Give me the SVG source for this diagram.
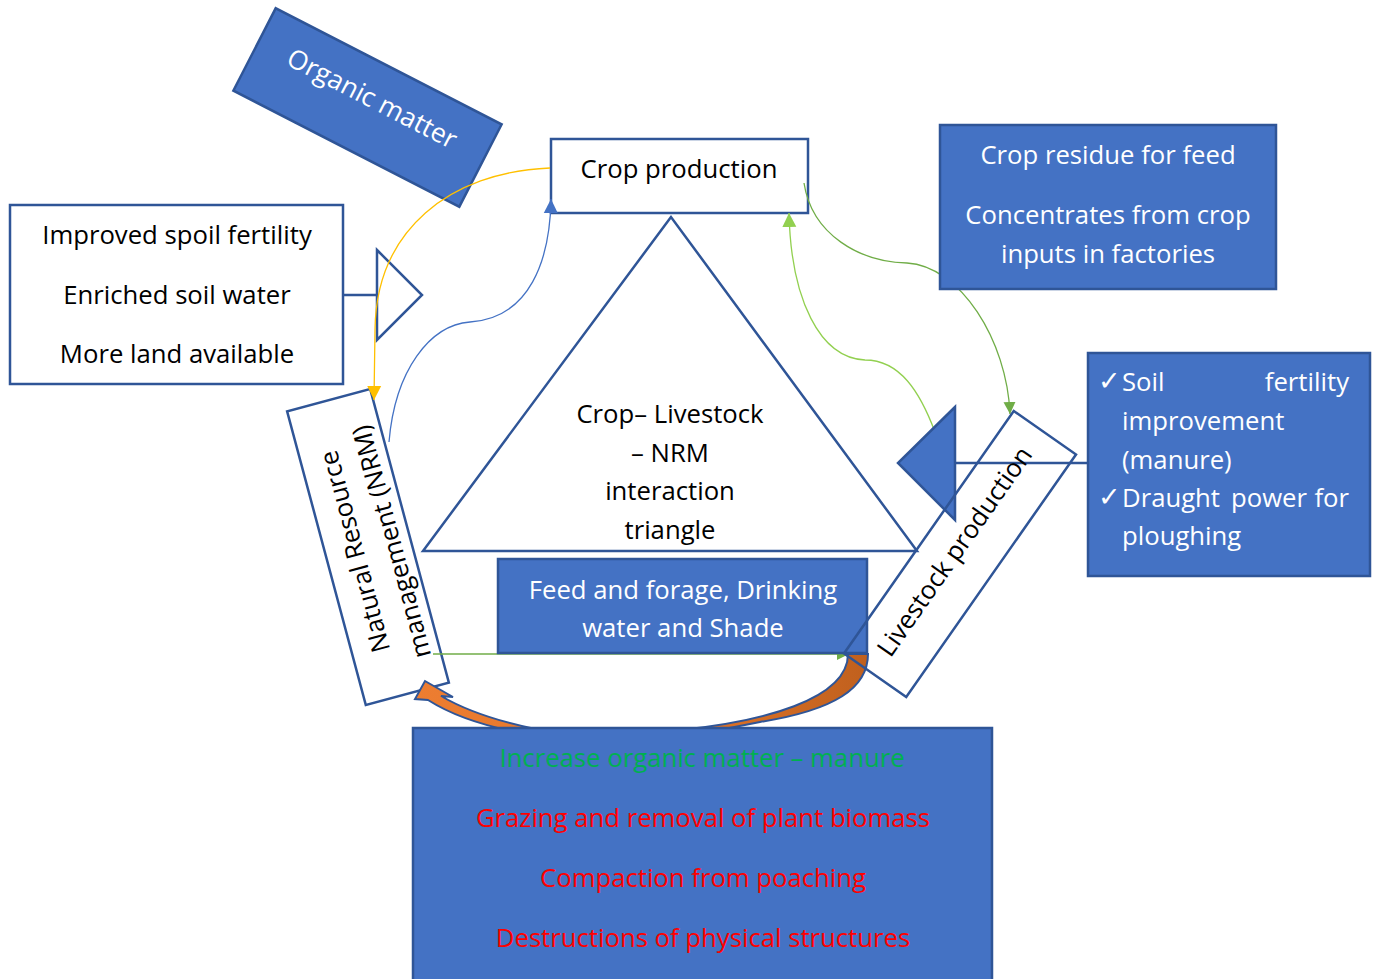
<svg xmlns="http://www.w3.org/2000/svg" width="1376" height="979" viewBox="0 0 1376 979">
  <style>
    .t { font-family: "Open Sans", "Liberation Sans", sans-serif; font-size: 25.7px; }
    .blk { fill: #000000; }
    .wht { fill: #FFFFFF; }
    .c { text-anchor: middle; }
    .boxw { fill: #FFFFFF; stroke: #2F5597; stroke-width: 2.5; }
    .boxb { fill: #4472C4; stroke: #2F5597; stroke-width: 2.5; }
    .outline { fill: none; stroke: #2F5597; stroke-width: 2.5; }
    .conn { fill: none; stroke-width: 1.3; }
    .chk { font-family: "DejaVu Sans", sans-serif; font-size: 27px; fill: #FFFFFF; }
  </style>
  <defs>
    <marker id="ah-yellow" viewBox="0 0 10 10" refX="10" refY="5" markerWidth="14" markerHeight="15" markerUnits="userSpaceOnUse" orient="auto">
      <path d="M0,0 L10,5 L0,10 Z" fill="#FFC000"/>
    </marker>
    <marker id="ah-blue" viewBox="0 0 10 10" refX="10" refY="5" markerWidth="14" markerHeight="15" markerUnits="userSpaceOnUse" orient="auto">
      <path d="M0,0 L10,5 L0,10 Z" fill="#4472C4"/>
    </marker>
    <marker id="ah-lgreen" viewBox="0 0 10 10" refX="10" refY="5" markerWidth="14" markerHeight="15" markerUnits="userSpaceOnUse" orient="auto">
      <path d="M0,0 L10,5 L0,10 Z" fill="#92D050"/>
    </marker>
    <marker id="ah-dgreen" viewBox="0 0 10 10" refX="10" refY="5" markerWidth="12" markerHeight="15" markerUnits="userSpaceOnUse" orient="auto">
      <path d="M0,0 L10,5 L0,10 Z" fill="#70AD47"/>
    </marker>
    <linearGradient id="orangeGrad" x1="415" y1="0" x2="868" y2="0" gradientUnits="userSpaceOnUse">
      <stop offset="0" stop-color="#ED7D31"/>
      <stop offset="0.6" stop-color="#E07428"/>
      <stop offset="1" stop-color="#C0601E"/>
    </linearGradient>
  </defs>

  <rect width="1376" height="979" fill="#FFFFFF"/>

  <!-- Organic matter -->
  <g id="organic-matter" transform="translate(367.5,107.5) rotate(27.2)">
    <rect class="boxb" x="-127" y="-46.3" width="254" height="92.6"/>
    <text class="t wht c" x="0" y="-1" style="font-size:26.5px">Organic matter</text>
  </g>

  <!-- Improved soil fertility box with open triangle -->
  <g id="soil-benefits">
    <rect class="boxw" x="10" y="205" width="333" height="179"/>
    <text class="t blk c" x="177" y="244">Improved spoil fertility</text>
    <text class="t blk c" x="177" y="304">Enriched soil water</text>
    <text class="t blk c" x="177" y="363">More land available</text>
    <line x1="343" y1="295" x2="377" y2="295" stroke="#2F5597" stroke-width="2.5"/>
    <polygon class="boxw" points="377,250 422,295 377,340"/>
  </g>

  <!-- Crop production -->
  <g id="crop-production">
    <rect class="boxw" x="551" y="139" width="257" height="74"/>
    <text class="t blk c" x="679" y="178">Crop production</text>
  </g>

  <!-- Central triangle -->
  <g id="interaction-triangle">
    <polygon class="outline" points="671,217 423,551 917,551"/>
    <text class="t blk c" x="670" y="423">Crop– Livestock</text>
    <text class="t blk c" x="670" y="462">– NRM</text>
    <text class="t blk c" x="670" y="500">interaction</text>
    <text class="t blk c" x="670" y="539">triangle</text>
  </g>

  <!-- NRM -->
  <g id="nrm" transform="translate(368,547) rotate(-105)">
    <rect class="boxw" x="-152" y="-43" width="304" height="86"/>
    <text class="t blk c" x="-1" y="-5">Natural Resource</text>
    <text class="t blk c" x="-1" y="33">management (NRM)</text>
  </g>

  <!-- Connectors -->
  <g id="connectors">
    <path class="conn" stroke="#FFC000" d="M550,168 C450,172 376,230 375,330 L374,400" marker-end="url(#ah-yellow)"/>
    <path class="conn" stroke="#4472C4" d="M389,442 C395,370 430,325 470,322 C530,318 550,260 551,199" marker-end="url(#ah-blue)"/>
    <path class="conn" stroke="#70AD47" d="M804,183 C812,235 860,262 907,263 C960,266 1007,340 1010,414" marker-end="url(#ah-dgreen)"/>
    <path class="conn" stroke="#92D050" d="M935,432 C920,392 900,360 865,360 C820,358 791,300 789,213" marker-end="url(#ah-lgreen)"/>
    <path class="conn" stroke="#70AD47" d="M433,654 L849,654" marker-end="url(#ah-dgreen)"/>
    <path d="M848,654 L868,654 C868,688 835,710 760,722 C720,730 700,734 680,736 L540,736 C485,728 450,714 428,700 L415,699 L425,681 L453,697 L441,696 C465,710 500,722 540,730 L680,730 C760,722 848,700 848,654 Z" fill="url(#orangeGrad)" stroke="#2F5597" stroke-width="2" stroke-linejoin="miter"/>
    <line x1="955" y1="463" x2="1088" y2="463" stroke="#2F5597" stroke-width="2.5"/>
  </g>

  <!-- Feed and forage -->
  <g id="feed-forage">
    <rect class="boxb" x="498" y="559" width="369" height="94"/>
    <text class="t wht c" x="683" y="599">Feed and forage, Drinking</text>
    <text class="t wht c" x="683" y="637">water and Shade</text>
  </g>

  <!-- Filled triangle pointing to livestock -->
  <g id="livestock-benefit-marker">
    <polygon points="955,407 898,463 955,520" fill="#4472C4" stroke="#2F5597" stroke-width="2.5"/>
  </g>

  <!-- Livestock production -->
  <g id="livestock-production" transform="translate(960,554) rotate(-55)">
    <rect class="outline" x="-148" y="-38" width="296" height="76"/>
    <text class="t blk c" x="-1" y="3">Livestock production</text>
  </g>

  <!-- Crop residue -->
  <g id="crop-residue">
    <rect class="boxb" x="940" y="125" width="336" height="164"/>
    <text class="t wht c" x="1108" y="164">Crop residue for feed</text>
    <text class="t wht c" x="1108" y="224">Concentrates from crop</text>
    <text class="t wht c" x="1108" y="263">inputs in factories</text>
  </g>

  <!-- Soil fertility / draught -->
  <g id="livestock-benefits">
    <rect class="boxb" x="1088" y="353" width="282" height="223"/>
    <text class="chk" x="1098" y="390">✓</text>
    <text class="t wht" x="1122" y="391">Soil</text>
    <text class="t wht" x="1349" y="391" text-anchor="end">fertility</text>
    <text class="t wht" x="1122" y="430">improvement</text>
    <text class="t wht" x="1122" y="469">(manure)</text>
    <text class="chk" x="1098" y="506">✓</text>
    <text class="t wht" x="1122" y="507">Draught</text>
    <text class="t wht" x="1231" y="507">power</text>
    <text class="t wht" x="1349" y="507" text-anchor="end">for</text>
    <text class="t wht" x="1122" y="545">ploughing</text>
  </g>

  <!-- Bottom effects box -->
  <g id="livestock-effects">
    <rect class="boxb" x="413" y="728" width="579" height="262"/>
    <text class="t c" x="702" y="767" fill="#00B050">Increase organic matter – manure</text>
    <text class="t c" x="703" y="827" fill="#FF0000">Grazing and removal of plant biomass</text>
    <text class="t c" x="703" y="887" fill="#FF0000">Compaction from poaching</text>
    <text class="t c" x="703" y="947" fill="#FF0000">Destructions of physical structures</text>
  </g>
</svg>
